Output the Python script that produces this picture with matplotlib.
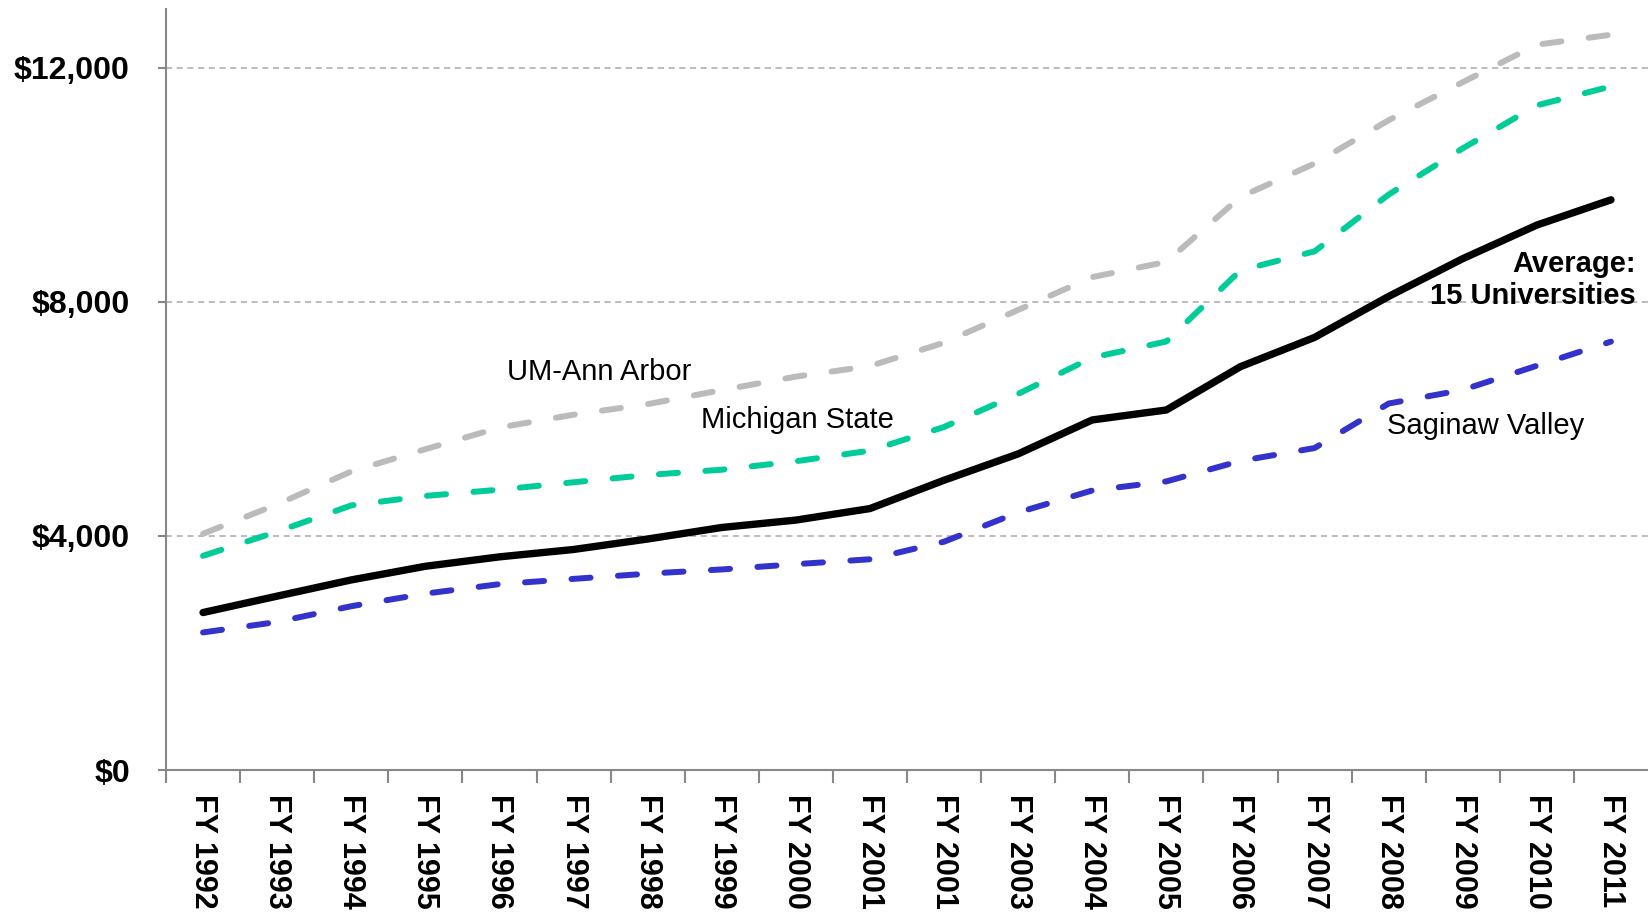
import numpy as np
import matplotlib.pyplot as plt
from matplotlib.ticker import FixedLocator, FuncFormatter

plt.rcParams['font.family'] = ['Liberation Sans', 'DejaVu Sans']

# etiquetas del eje x (tal cual aparecen, con FY 2001 repetido)
years = ['FY 1992', 'FY 1993', 'FY 1994', 'FY 1995', 'FY 1996', 'FY 1997',
         'FY 1998', 'FY 1999', 'FY 2000', 'FY 2001', 'FY 2001', 'FY 2003',
         'FY 2004', 'FY 2005', 'FY 2006', 'FY 2007', 'FY 2008', 'FY 2009',
         'FY 2010', 'FY 2011']

um_ann_arbor = [4036, 4538, 5100, 5480, 5850, 6070, 6250, 6490, 6720, 6900,
                7300, 7860, 8420, 8680, 9790, 10360, 11100, 11750, 12390, 12560]
michigan_state = [3659, 4072, 4520, 4682, 4789, 4915, 5040, 5130, 5274, 5455,
                  5860, 6425, 7045, 7320, 8535, 8860, 9830, 10620, 11354, 11677]
average_15 = [2690, 2970, 3247, 3480, 3641, 3767, 3946, 4143, 4269, 4466,
              4950, 5400, 5980, 6150, 6890, 7390, 8090, 8735, 9309, 9740]
saginaw_valley = [2350, 2529, 2798, 3013, 3175, 3265, 3354, 3426, 3516, 3600,
                  3900, 4400, 4775, 4930, 5280, 5500, 6260, 6493, 6906, 7318]

x = np.arange(len(years))

fig = plt.figure(figsize=(16.48, 9.13), dpi=100)
ax = fig.add_axes([166/1648, 1 - 770/913, 1 - 166/1648, (770 - 9)/913])

ax.set_xlim(-0.5, len(years) - 0.5)
ax.set_ylim(0, 13000)

# rejilla horizontal punteada
for v in [4000, 8000, 12000]:
    ax.axhline(v, color='#aaaaaa', lw=1.1, ls=(0, (4, 3)), zorder=1)

lw_d = 4.3
dash = (0, (3.2, 4.6))
ax.plot(x, um_ann_arbor, color='#bbbbbb', lw=lw_d, ls=dash,
        dash_capstyle='round', zorder=2)
ax.plot(x, michigan_state, color='#00cc99', lw=lw_d, ls=dash,
        dash_capstyle='round', zorder=3)
ax.plot(x, saginaw_valley, color='#3333cc', lw=lw_d, ls=dash,
        dash_capstyle='round', zorder=3)
ax.plot(x, average_15, color='black', lw=5.3, solid_capstyle='round',
        solid_joinstyle='round', zorder=4)

# ejes
for s in ['top', 'right']:
    ax.spines[s].set_visible(False)
for s in ['left', 'bottom']:
    ax.spines[s].set_color('#888888')
    ax.spines[s].set_linewidth(1.5)

ax.set_yticks([0, 4000, 8000, 12000])
ax.yaxis.set_major_formatter(FuncFormatter(lambda v, p: '${:,.0f}'.format(v)))
ax.tick_params(axis='y', length=6, width=1.5, color='#888888', pad=20,
               labelsize=23)
for t in ax.get_yticklabels():
    t.set_fontweight('bold')

ax.set_xticks(x)
ax.set_xticklabels(years, rotation=270, fontsize=22, fontweight='bold')
ax.tick_params(axis='x', which='major', length=0, pad=17)
ax.xaxis.set_minor_locator(FixedLocator(np.arange(-0.5, len(years) - 1, 1.0)))
ax.tick_params(axis='x', which='minor', length=9, width=1.5, color='#888888')

# etiquetas de las series
ax.text(4.1, 6806, 'UM-Ann Arbor', fontsize=21, va='center', ha='left')
ax.text(6.72, 5987, 'Michigan State', fontsize=21, va='center', ha='left')
ax.text(15.98, 5868, 'Saginaw Valley', fontsize=21, va='center', ha='left')
ax.text(19.34, 8375, 'Average:\n15 Universities', fontsize=21,
        fontweight='bold', va='center', ha='right', multialignment='right',
        linespacing=1.2)

plt.savefig('out.png', dpi=100)
